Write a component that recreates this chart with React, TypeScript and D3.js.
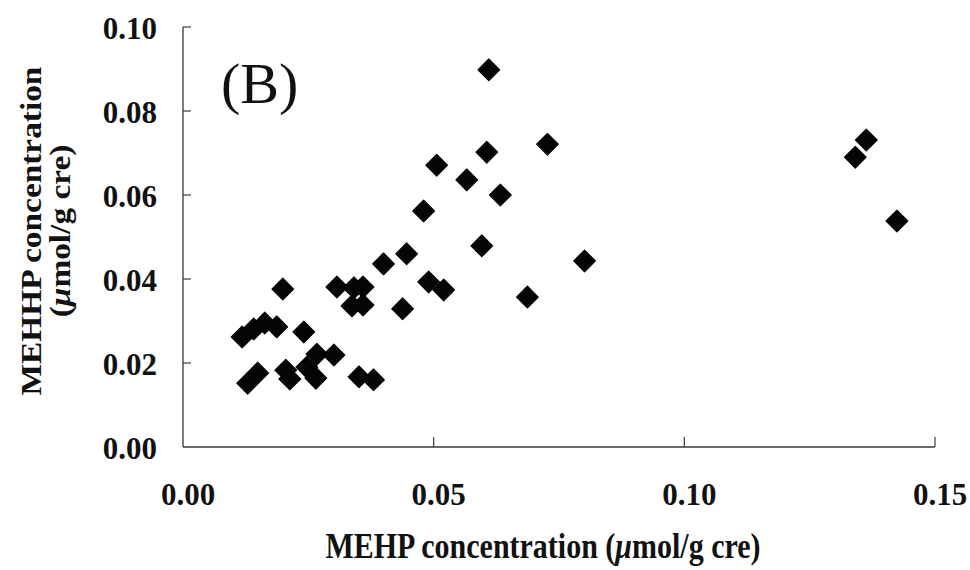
import React from "react";
import * as d3 from "d3";

const xValues = [
  0.0118, 0.0141, 0.0163, 0.0187, 0.0241, 0.0267, 0.0301, 0.0129, 0.0149, 0.0205,
  0.0213, 0.0247, 0.0265, 0.0351, 0.038, 0.0307, 0.0341, 0.0359, 0.0337, 0.0359,
  0.04, 0.0446, 0.0438, 0.049, 0.052, 0.061, 0.0727, 0.0606, 0.0506, 0.0566,
  0.0633, 0.048, 0.0596, 0.0801, 0.0687, 0.1363, 0.1341, 0.1424, 0.0199,
];
const yValues = [
  0.0262, 0.0281, 0.0295, 0.0286, 0.0274, 0.0221, 0.0219, 0.0152, 0.0176, 0.0183,
  0.0162, 0.019, 0.0164, 0.0167, 0.016, 0.0381, 0.0379, 0.0381, 0.0336, 0.0338,
  0.0436, 0.046, 0.0329, 0.0393, 0.0374, 0.0898, 0.0721, 0.0702, 0.0671, 0.0636,
  0.06, 0.0562, 0.0479, 0.0443, 0.0357, 0.0731, 0.069, 0.0538, 0.0376,
];
const xTicks = [0, 0.05, 0.1, 0.15];
const yTicks = [0, 0.02, 0.04, 0.06, 0.08, 0.1];
const panelLabel = "(B)";
const yTitle1 = "MEHHP concentration";
const xTitleMain = "MEHP concentration (";
const unitMu = "\u03bc";
const unitRest = "mol/g cre)";

export default function App() {
  const left = 183;
  const right = 935;
  const top = 27;
  const bottom = 447;
  const x = d3.scaleLinear().domain([0, 0.15]).range([left, right]);
  const y = d3.scaleLinear().domain([0, 0.1]).range([bottom, top]);
  const sym = d3.symbol().type(d3.symbolSquare).size(235)();
  const serif = "'Liberation Serif', 'Times New Roman', serif";
  const axisColor = "#3a3a3a";

  return (
    <svg
      width={970}
      height={570}
      style={{ position: "absolute", left: 0, top: 0, background: "#fff" }}
      fontFamily={serif}
    >
      <rect x={0} y={0} width={970} height={570} fill="#fff" />
      {/* axes */}
      <line x1={left} x2={left} y1={top} y2={bottom} stroke={axisColor} strokeWidth={1.3} />
      <line x1={left} x2={right} y1={bottom} y2={bottom} stroke={axisColor} strokeWidth={1.3} />
      {yTicks.filter((t) => t > 0).map((t) => (
        <line key={"yt" + t} x1={left} x2={left + 8} y1={y(t)} y2={y(t)} stroke={axisColor} strokeWidth={1.2} />
      ))}
      {xTicks.filter((t) => t > 0).map((t) => (
        <line key={"xt" + t} x1={x(t)} x2={x(t)} y1={bottom} y2={bottom - 10} stroke={axisColor} strokeWidth={1.2} />
      ))}
      {/* tick labels */}
      {yTicks.map((t) => (
        <text key={"yl" + t} x={157} y={y(t) + 12} textAnchor="end" fontSize={31} fontWeight="bold" fill="#111">
          {t.toFixed(2)}
        </text>
      ))}
      {xTicks.map((t) => (
        <text key={"xl" + t} x={x(t) + 5} y={505} textAnchor="middle" fontSize={31} fontWeight="bold" fill="#111">
          {t.toFixed(2)}
        </text>
      ))}
      {/* axis titles */}
      <text
        transform="translate(543,558) scale(1,1.2)"
        textAnchor="middle"
        fontSize={30}
        fontWeight="bold"
        fill="#111"
      >
        {xTitleMain}
        <tspan fontStyle="italic">{unitMu}</tspan>
        {unitRest}
      </text>
      <text
        transform="translate(41,231) rotate(-90) scale(1.15,1)"
        textAnchor="middle"
        fontSize={29}
        fontWeight="bold"
        fill="#111"
      >
        {yTitle1}
      </text>
      <text
        transform="translate(70,231) rotate(-90) scale(1.15,1)"
        textAnchor="middle"
        fontSize={29}
        fontWeight="bold"
        fill="#111"
      >
        {"("}
        <tspan fontStyle="italic">{unitMu}</tspan>
        {unitRest}
      </text>
      {/* panel label */}
      <text x={221} y={103} fontSize={58} fill="#111">
        {panelLabel}
      </text>
      {/* points */}
      {xValues.map((v, i) => (
        <path
          key={"p" + i}
          d={sym ?? ""}
          transform={`translate(${x(v)},${y(yValues[i])}) rotate(45)`}
          fill="#050505"
          stroke="#050505"
          strokeWidth={1.2}
          strokeLinejoin="round"
        />
      ))}
    </svg>
  );
}
